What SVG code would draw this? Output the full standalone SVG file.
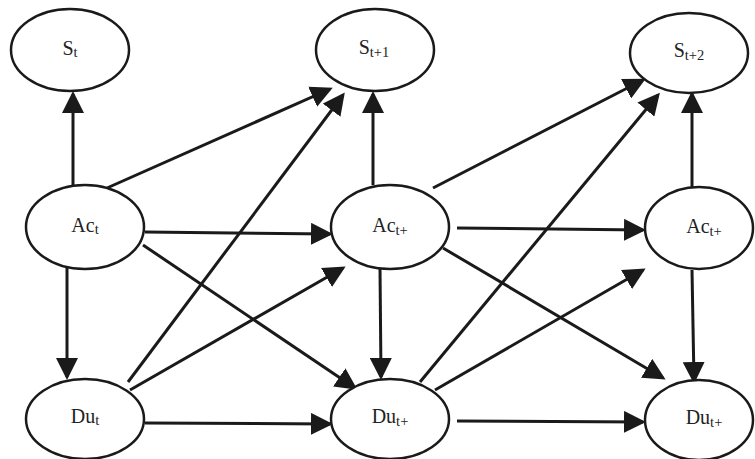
<svg xmlns="http://www.w3.org/2000/svg" width="755" height="459" viewBox="0 0 755 459">
<style>
.node ellipse{fill:#fff;stroke:#1a1a1a;stroke-width:2.5}
.node text{font-family:"Liberation Serif","Times New Roman",serif;font-size:20px;fill:#222;text-anchor:middle}
.sub{font-size:14.5px}
.edges line{stroke:#1a1a1a;stroke-width:3;marker-end:url(#ah)}
</style>
<defs>
<marker id="ah" markerUnits="userSpaceOnUse" markerWidth="22" markerHeight="22" viewBox="0 0 22 22" refX="19" refY="11" orient="auto">
<path d="M0,0 L22,11 L0,22 z" fill="#1a1a1a"/>
</marker>
</defs>
<rect width="755" height="459" fill="#fff"/>
<g id="edges" class="edges">
<line x1="73" y1="186" x2="73" y2="94"/>
<line x1="107" y1="188" x2="330" y2="89"/>
<line x1="145" y1="232" x2="330" y2="234"/>
<line x1="143" y1="245" x2="355" y2="388"/>
<line x1="67" y1="268" x2="67" y2="377"/>
<line x1="128" y1="382" x2="343" y2="95"/>
<line x1="130" y1="390" x2="343" y2="268"/>
<line x1="145" y1="423" x2="330" y2="424"/>
<line x1="373" y1="185" x2="373" y2="94"/>
<line x1="433" y1="188" x2="643" y2="80"/>
<line x1="457" y1="228" x2="643" y2="230"/>
<line x1="443" y1="248" x2="663" y2="378"/>
<line x1="380" y1="268" x2="381" y2="377"/>
<line x1="420" y1="382" x2="658" y2="95"/>
<line x1="435" y1="390" x2="643" y2="270"/>
<line x1="457" y1="421" x2="643" y2="422"/>
<line x1="692" y1="187" x2="692" y2="94"/>
<line x1="692" y1="270" x2="694" y2="381"/>
</g>
<g id="St" class="node"><ellipse cx="70" cy="50" rx="59" ry="41"/><text x="70" y="55">S<tspan class="sub" dy="2">t</tspan></text></g>
<g id="St1" class="node"><ellipse cx="375" cy="50" rx="59" ry="41"/><text x="374" y="54">S<tspan class="sub" dy="3">t+1</tspan></text></g>
<g id="St2" class="node"><ellipse cx="689" cy="53" rx="59" ry="40"/><text x="689" y="57">S<tspan class="sub" dy="3">t+2</tspan></text></g>
<g id="Act" class="node"><ellipse cx="85" cy="227" rx="59" ry="42"/><text x="85" y="232">Ac<tspan class="sub" dy="2">t</tspan></text></g>
<g id="Act1" class="node"><ellipse cx="390" cy="227" rx="59" ry="42"/><text x="390" y="232">Ac<tspan class="sub" dy="3">t+</tspan></text></g>
<g id="Act2" class="node"><ellipse cx="699" cy="228" rx="54" ry="41"/><text x="704" y="233">Ac<tspan class="sub" dy="3">t+</tspan></text></g>
<g id="Dut" class="node"><ellipse cx="85" cy="419" rx="59" ry="40"/><text x="85" y="423">Du<tspan class="sub" dy="2">t</tspan></text></g>
<g id="Dut1" class="node"><ellipse cx="390" cy="419" rx="59" ry="40"/><text x="390" y="423">Du<tspan class="sub" dy="3">t+</tspan></text></g>
<g id="Dut2" class="node"><ellipse cx="699" cy="420" rx="54" ry="40"/><text x="704" y="424">Du<tspan class="sub" dy="3">t+</tspan></text></g>
</svg>
